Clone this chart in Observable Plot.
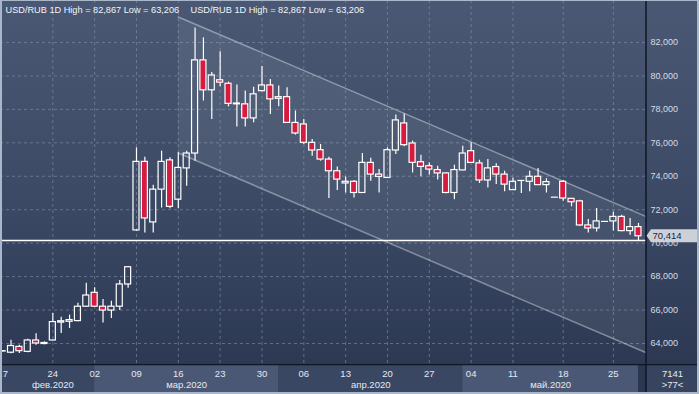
<!DOCTYPE html>
<html><head><meta charset="utf-8">
<script src="https://cdn.jsdelivr.net/npm/d3@7"></script>
<script src="https://cdn.jsdelivr.net/npm/@observablehq/plot@0.6"></script>
<style>
html,body{margin:0;padding:0;background:#2c3852;}
#wrap{position:relative;width:699px;height:394px;overflow:hidden;}
#wrap svg{display:block;}
#border{position:absolute;left:0;top:0;width:699px;height:394px;box-sizing:border-box;border:2px solid #aab7ca;border-top-width:1px;pointer-events:none;}
</style></head><body><div id="wrap"><div id="border"></div></div>
<script>
const header = "USD/RUB 1D High = 82,867 Low = 63,206";
const open  = [63.52,63.45,63.80,63.50,64.18,63.97,64.18,65.25,65.30,65.34,66.20,67.03,66.20,65.97,66.20,67.53,
  70.76,74.86,71.24,73.20,74.95,72.60,74.47,75.36,80.93,79.14,79.74,79.53,78.30,78.30,77.46,79.09,79.43,78.73,78.73,77.19,
  77.10,76.00,75.56,75.00,74.30,73.57,73.67,73.00,74.80,74.10,73.90,75.54,77.16,75.96,74.84,74.60,74.37,74.17,73.00,74.35,
  75.50,74.77,73.75,74.55,74.10,73.17,73.75,73.67,73.97,73.47,72.75,73.67,72.65,72.50,71.06,70.88,71.30,71.30,71.57,70.72,70.96];
const high  = [63.56,64.20,63.90,64.25,64.58,64.10,65.80,65.57,65.70,66.40,67.60,67.33,66.63,66.53,67.77,68.60,
  75.70,75.14,73.47,75.50,75.10,75.40,75.50,82.87,82.28,80.20,81.45,79.63,79.45,79.10,79.33,80.56,79.79,79.39,79.29,77.90,
  77.40,76.20,75.90,75.14,74.55,73.95,73.75,75.36,75.07,74.40,75.70,77.66,77.73,76.10,75.26,74.80,74.60,74.20,74.66,75.80,
  76.00,74.96,75.00,74.75,74.30,73.90,73.75,74.30,74.47,73.85,72.75,73.75,72.67,72.57,71.42,72.07,71.30,71.85,71.67,71.48,71.18];
const low   = [63.50,63.38,63.40,63.45,63.90,63.92,64.15,64.60,64.90,65.30,66.15,66.15,65.23,65.50,65.97,67.30,
  70.70,70.60,70.60,72.10,72.05,72.05,73.40,74.90,78.50,77.40,79.35,78.15,76.95,76.95,77.20,79.05,77.70,78.15,77.15,76.46,
  75.90,75.20,74.90,72.67,73.15,73.00,72.70,72.98,73.70,73.00,73.88,75.30,75.76,74.20,73.97,74.07,73.77,72.95,72.60,74.33,
  74.78,73.57,73.30,73.50,73.07,73.15,72.97,73.07,73.45,73.00,72.75,72.50,72.17,71.00,70.60,70.66,71.30,70.72,70.68,70.48,70.16];
const close = [63.54,63.85,63.54,64.18,64.00,64.03,65.28,65.33,65.40,66.20,66.87,66.20,65.97,66.20,67.53,68.56,
  74.86,71.48,73.20,74.86,72.17,74.50,75.36,80.93,79.14,80.03,79.60,78.33,78.35,77.46,78.90,79.43,78.60,78.63,77.19,76.56,
  76.00,75.54,75.00,74.30,73.80,73.67,73.00,74.80,74.10,73.96,75.56,77.34,75.86,74.80,74.56,74.40,74.17,73.00,74.37,75.36,
  74.80,73.75,74.47,74.10,73.50,73.67,73.75,73.97,73.47,73.65,72.75,72.67,72.45,71.06,70.88,71.30,71.30,71.57,70.72,70.96,70.414];
const tickIdx    = [0,6,11,16,21,26,31,36,41,46,51,56,61,67,73];
const tickLabels = ["17","24","02","09","16","23","30","06","13","20","27","04","11","18","25"];
const monthNames = ["фев.2020","мар.2020","апр.2020","май.2020"];
const monthStart = [1,11,33,55];
const monthEnd   = [11,33,55,76];
const yTicks = [64,66,68,70,72,74,76,78,80,82];
const channelIdx   = [21,77];
const channelUpper = [83.525,71.57];
const channelLower = [75.39,63.43];
const supportLevel = 70.16;
const lastClose = 70.414;
const barsCount = "7141";
const barsVisible = ">77<";

const candles = open.map((o,i)=>({i,o,h:high[i],l:low[i],c:close[i],up:close[i]>=open[i]}));
const bodies = candles.filter(d=>d.o!==d.c);
const dojis = candles.filter(d=>d.o===d.c);
const channel = channelIdx.map((x,k)=>({x,hi:channelUpper[k],lo:channelLower[k]}));
const ticks = tickIdx.map((x,k)=>({x,label:tickLabels[k]}));
const fmt = v=>v.toFixed(3).replace(".",",");

const xDomain = [-0.255, 76.96];
const W = 699, MR = 53;
const font = "'Liberation Sans', Arial, sans-serif";

const bands = monthNames.map((name,k)=>({
  name,
  x1: k === 0 ? xDomain[0] : monthStart[k],
  x2: monthEnd[k],
  mid: (monthStart[k] + monthEnd[k]) / 2,
  light: k % 2 === 1
}));

const NS = "http://www.w3.org/2000/svg";
function el(tag, attrs){ const e = document.createElementNS(NS, tag); for (const k in attrs) e.setAttribute(k, attrs[k]); return e; }

function vSep(index, scales, values, dim){
  const x = dim.width - dim.marginRight;
  return el("line", {x1:x, x2:x, y1:0, y2:dim.height, stroke:"#0f1626", "stroke-width":1.5});
}
function priceBox(index, scales, values, dim){
  const y = scales.y(lastClose);
  const x0 = dim.width - dim.marginRight;
  const g = el("g", {});
  g.appendChild(el("path", {d:`M${x0+0.5},${y} L${x0+5},${y-6.5} L${x0+51},${y-6.5} L${x0+51},${y+6.5} L${x0+5},${y+6.5} Z`, fill:"#ccd0d7"}));
  return g;
}
function topLine(index, scales, values, dim){
  return el("line", {x1:0, x2:dim.width, y1:0.5, y2:0.5, stroke:"#0f1626", "stroke-width":1.5});
}

const chart = Plot.plot({
  width: W, height: 364,
  marginLeft: 0, marginRight: MR, marginTop: 0, marginBottom: 0,
  x: {domain: xDomain, axis: null},
  y: {domain: [62.744, 84.51], axis: null},
  style: {background: "linear-gradient(180deg, #4a5874 0%, #3d4b67 50%, #2d3953 100%)", color: "#d6dde8", fontFamily: font},
  marks: [
    Plot.gridY(yTicks, {stroke: "#8a97b0", strokeOpacity: 0.55, strokeDasharray: "3,3"}),
    Plot.gridX(tickIdx.slice(1), {stroke: "#8a97b0", strokeOpacity: 0.55, strokeDasharray: "3,3"}),
    Plot.area(channel, {x1: "x", y1: "lo", y2: "hi", fill: "white", fillOpacity: 0.07, clip: true}),
    Plot.line(channel, {x: "x", y: "hi", stroke: "#dfe5ee", strokeOpacity: 0.45, clip: true}),
    Plot.line(channel, {x: "x", y: "lo", stroke: "#dfe5ee", strokeOpacity: 0.45, clip: true}),
    Plot.ruleY([supportLevel], {stroke: "white", strokeWidth: 1.5}),
    Plot.ruleX(candles, {x: "i", y1: "h", y2: d=>Math.max(d.o,d.c), stroke: "white", strokeWidth: 1.2, clip: true}),
    Plot.ruleX(candles, {x: "i", y1: "l", y2: d=>Math.min(d.o,d.c), stroke: "white", strokeWidth: 1.2, clip: true}),
    Plot.rect(bodies, {x1: d=>d.i-0.36, x2: d=>d.i+0.36, y1: "o", y2: "c",
      fill: d=>d.up ? "none" : "#d71a3f", stroke: "white", strokeWidth: 1.2, clip: true}),
    Plot.ruleY(dojis, {y: "c", x1: d=>d.i-0.42, x2: d=>d.i+0.42, stroke: "white", strokeWidth: 1.2, clip: true}),
    Plot.axisY(yTicks, {anchor: "right", tickSize: 0, tickPadding: 4, tickFormat: fmt, fontSize: 9, fill: "#d6dde8"}),
    Plot.text([header], {frameAnchor: "top-left", dx: 5, dy: 9.5, lineAnchor: "middle", fill: "#f2f5f9", fontSize: 9.2}),
    Plot.text([header], {frameAnchor: "top-left", dx: 190, dy: 9.5, lineAnchor: "middle", fill: "#f2f5f9", fontSize: 9.2}),
    vSep,
    priceBox,
    Plot.text([lastClose], {y: d=>d, text: d=>fmt(d), frameAnchor: "right", dx: 6, textAnchor: "start",
      fill: "#1c2640", fontSize: 9.5}),
  ]
});

const dateAxis = Plot.plot({
  width: W, height: 30,
  marginLeft: 0, marginRight: MR, marginTop: 0, marginBottom: 0,
  x: {domain: xDomain, axis: null},
  style: {background: "#37445f", fontFamily: font},
  marks: [
    Plot.rect([0], {x1: monthEnd[3], x2: xDomain[1], fill: "#2b3650"}),
    Plot.rect(bands, {x1: "x1", x2: "x2", fill: d=>d.light ? "#4a5876" : "#3a4763"}),
    Plot.text(ticks, {x: "x", text: "label", frameAnchor: "top", dy: 9, lineAnchor: "middle", fill: "#e4e9f1", fontSize: 9.5, clip: true}),
    Plot.text(bands, {x: "mid", text: "name", frameAnchor: "top", dy: 20.5, lineAnchor: "middle", fill: "#e4e9f1", fontSize: 9.5}),
    Plot.text([barsCount], {frameAnchor: "top-right", dx: 26, dy: 9, lineAnchor: "middle", textAnchor: "middle", fill: "#e4e9f1", fontSize: 9.5}),
    Plot.text([barsVisible], {frameAnchor: "top-right", dx: 26, dy: 20.5, lineAnchor: "middle", textAnchor: "middle", fill: "#e4e9f1", fontSize: 9.5}),
    vSep,
    topLine
  ]
});

const wrap = document.getElementById("wrap");
wrap.insertBefore(chart, wrap.firstChild);
wrap.insertBefore(dateAxis, document.getElementById("border"));
</script></body></html>
